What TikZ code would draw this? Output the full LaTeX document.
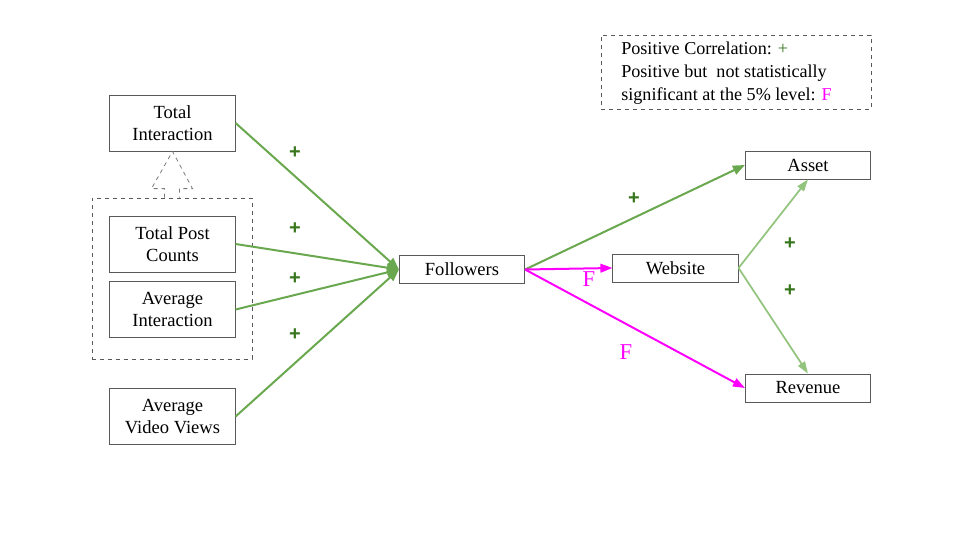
\documentclass[tikz,border=0pt]{standalone}
\usepackage{fontspec}
\setmainfont{Liberation Serif}
\newfontfamily\plusfont{Liberation Sans}
\usetikzlibrary{arrows.meta, calc}
\definecolor{boxgray}{HTML}{595959}
\definecolor{arrgreen}{HTML}{6AA84F}
\definecolor{lightgreen}{HTML}{93C47D}
\definecolor{plusgreen}{HTML}{38761D}
\definecolor{fmagenta}{HTML}{FF00FF}
\tikzset{
  box/.style={draw=boxgray, line width=0.6pt, minimum width=94pt, minimum height=42pt, align=center, inner sep=0pt, font=\fontsize{13.9}{16.3}\selectfont},
  slimbox/.style={box, minimum height=21pt},
  groupbox/.style={draw=boxgray, dashed, line width=0.6pt, minimum width=120pt, minimum height=120.75pt, inner sep=0pt},
  hollowarr/.style={draw=boxgray!80, dashed, line width=0.6pt},
  posarr/.style={draw=arrgreen, line width=1.5pt, -{Triangle[length=9pt,width=7pt]}},
  webarr/.style={draw=lightgreen, line width=1.3pt, -{Triangle[length=9pt,width=6pt]}},
  nsarr/.style={draw=fmagenta, line width=1.5pt, -{Triangle[length=9pt,width=6.5pt]}},
  plus/.style={text=plusgreen, font=\fontsize{15}{15}\selectfont\plusfont\bfseries, inner sep=0pt},
  flab/.style={text=fmagenta, font=\fontsize{17}{17}\selectfont, inner sep=0pt}
}

\begin{document}
\begin{tikzpicture}[x=0.75pt, y=-0.75pt]
\useasboundingbox (0,0) rectangle (960,540);
\node[box] (ti) at (172.5,123) {Total\\Interaction};
\node[groupbox] (grp) at (172,278.5) {};
\node[box] (tpc) at (172.5,244) {Total Post\\Counts};
\node[box] (ai) at (172.5,309.5) {Average\\Interaction};
\node[box] (avv) at (172.5,416.5) {Average\\Video Views};
\node[slimbox] (fol) at (462,269.5) {Followers};
\node[slimbox] (web) at (675.5,268) {Website};
\node[slimbox] (ast) at (808,165) {Asset};
\node[slimbox] (rev) at (808,388) {Revenue};
\node[draw=boxgray, dashed, line width=0.6pt, minimum width=202.5pt, minimum height=55.5pt] (leg) at (736,72) {};
\node[anchor=west, inner sep=0pt, align=left, font=\fontsize{13.6}{17.4}\selectfont] (legtext) at (621,73)
  {Positive Correlation: \textcolor{plusgreen}{+}\\Positive but~ not statistically\\significant at the 5\% level: \textcolor{fmagenta}{F}};
% hollow arrow from the group to Total Interaction
\draw[hollowarr] ($(grp.north)+(-7.5,0)$) -- ++(0,-9) -- ++(-13,0) -- (ti.south)
  -- ($(grp.north)+(20.5,-9)$) -- ++(-13,0) -- ++(0,9);
\draw[posarr] (ti.east) -- (fol.west);
\draw[posarr] (tpc.east) -- (fol.west);
\draw[posarr] (ai.east) -- (fol.west);
\draw[posarr] (avv.east) -- (fol.west);
\draw[posarr] (fol.east) -- (ast.west);
\draw[nsarr] (fol.east) -- (web.west);
\draw[nsarr] (fol.east) -- (rev.west);
\draw[webarr] (web.east) -- (ast.south);
\draw[webarr] (web.east) -- (rev.north);
\node[plus] (p1) at (295,153) {+};
\node[plus] (p2) at (295,229) {+};
\node[plus] (p3) at (295,279) {+};
\node[plus] (p4) at (295,335) {+};
\node[plus] (p5) at (634,199) {+};
\node[plus] (p6) at (790,244) {+};
\node[plus] (p7) at (790,291) {+};
\node[flab] (f1) at (589,279) {F};
\node[flab] (f2) at (626,352) {F};
\end{tikzpicture}
\end{document}
